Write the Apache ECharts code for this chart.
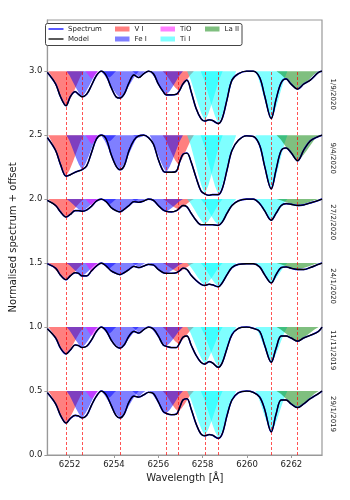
<!DOCTYPE html>
<html>
<head>
<meta charset="utf-8">
<script src="https://cdn.jsdelivr.net/npm/echarts@6/dist/echarts.min.js"></script>
<style>
  html, body { margin: 0; padding: 0; background: #fff; }
  #chart { width: 350px; height: 500px; }
</style>
</head>
<body>
<div id="chart"></div>
<script>
// wavelength grid the spectra were read on (Angstrom)
var wavelengths = [6251.00, 6251.37, 6251.59, 6251.84, 6252.03, 6252.25, 6252.40, 6252.56, 6252.77, 6252.99,
  6253.21, 6253.43, 6253.65, 6253.87, 6254.09, 6254.27, 6254.46, 6254.68, 6254.90, 6255.12,
  6255.34, 6255.56, 6255.78, 6256.00, 6256.22, 6256.36, 6256.59, 6256.82, 6256.96, 6257.11,
  6257.29, 6257.48, 6257.70, 6257.92, 6258.10, 6258.29, 6258.44, 6258.70, 6258.88, 6259.10,
  6259.32, 6259.61, 6259.98, 6260.28, 6260.57, 6260.79, 6261.09, 6261.31, 6261.54, 6261.76,
  6261.98, 6262.28, 6262.56, 6262.85, 6263.22, 6263.38]

var epochs = ['1/9/2020', '9/4/2020', '27/2/2020', '24/1/2020', '11/11/2019', '29/1/2019']
var offsets = [2.0, 1.5, 1.0, 0.5, 0.0, -0.5]

// normalised flux per epoch
var flux_1_9_2020 = [0.99, 0.90, 0.80, 0.73, 0.80, 0.84, 0.82, 0.80, 0.82, 0.89,
  0.966, 1.0, 0.966, 0.875, 0.80, 0.79, 0.82, 0.91, 0.97, 0.95,
  0.98, 1.0, 0.98, 0.90, 0.84, 0.815, 0.815, 0.82, 0.85, 0.90,
  0.93, 0.84, 0.71, 0.63, 0.61, 0.62, 0.615, 0.59, 0.63, 0.78,
  0.93, 0.98, 1.0, 1.0, 0.95, 0.81, 0.63, 0.78, 0.91, 0.94,
  0.90, 0.86, 0.90, 0.93, 0.99, 1.0]
var flux_9_4_2020 = [0.98, 0.88, 0.77, 0.68, 0.69, 0.71, 0.72, 0.73, 0.76, 0.865,
  0.97, 1.0, 0.97, 0.85, 0.76, 0.73, 0.76, 0.88, 0.96, 0.995,
  1.0, 0.98, 0.93, 0.81, 0.72, 0.71, 0.71, 0.72, 0.79, 0.85,
  0.86, 0.79, 0.67, 0.565, 0.54, 0.53, 0.535, 0.535, 0.58, 0.73,
  0.88, 0.96, 0.995, 0.99, 0.92, 0.76, 0.58, 0.73, 0.88, 0.90,
  0.865, 0.80, 0.885, 0.955, 0.99, 1.0]
var flux_27_2_2020 = [0.99, 0.95, 0.90, 0.86, 0.88, 0.91, 0.91, 0.905, 0.915, 0.945,
  0.985, 1.0, 0.98, 0.935, 0.91, 0.90, 0.92, 0.95, 0.98, 0.975,
  0.985, 1.0, 0.99, 0.95, 0.915, 0.905, 0.90, 0.91, 0.93, 0.95,
  0.94, 0.89, 0.835, 0.80, 0.80, 0.80, 0.80, 0.795, 0.82, 0.89,
  0.95, 0.987, 1.0, 1.0, 0.965, 0.91, 0.835, 0.89, 0.95, 0.965,
  0.96, 0.95, 0.955, 0.97, 0.99, 1.0]
var flux_24_1_2020 = [0.995, 0.96, 0.905, 0.87, 0.90, 0.925, 0.92, 0.90, 0.90, 0.94,
  0.977, 1.0, 0.977, 0.94, 0.92, 0.91, 0.925, 0.95, 0.975, 0.965,
  0.977, 0.99, 0.985, 0.95, 0.925, 0.92, 0.92, 0.925, 0.94, 0.96,
  0.95, 0.905, 0.865, 0.835, 0.825, 0.835, 0.83, 0.815, 0.845, 0.91,
  0.965, 0.99, 0.995, 0.995, 0.97, 0.91, 0.845, 0.91, 0.965, 0.97,
  0.96, 0.95, 0.95, 0.965, 0.99, 1.0]
var flux_11_11_2019 = [0.987, 0.915, 0.835, 0.79, 0.82, 0.86, 0.855, 0.84, 0.85, 0.90,
  0.966, 1.0, 0.97, 0.90, 0.85, 0.835, 0.86, 0.93, 0.966, 0.953,
  0.98, 1.0, 0.985, 0.93, 0.86, 0.85, 0.84, 0.84, 0.875, 0.92,
  0.93, 0.86, 0.78, 0.725, 0.71, 0.73, 0.72, 0.685, 0.72, 0.835,
  0.94, 0.99, 1.0, 0.99, 0.966, 0.86, 0.725, 0.835, 0.93, 0.93,
  0.915, 0.89, 0.915, 0.935, 0.966, 1.0]
var flux_29_1_2019 = [0.987, 0.90, 0.81, 0.75, 0.785, 0.81, 0.805, 0.79, 0.81, 0.89,
  0.96, 1.0, 0.97, 0.89, 0.81, 0.79, 0.82, 0.915, 0.96, 0.953,
  0.97, 0.99, 0.98, 0.915, 0.84, 0.825, 0.815, 0.82, 0.87, 0.93,
  0.94, 0.86, 0.745, 0.665, 0.65, 0.66, 0.655, 0.63, 0.665, 0.81,
  0.93, 0.987, 1.0, 0.99, 0.953, 0.86, 0.68, 0.82, 0.93, 0.93,
  0.90, 0.87, 0.90, 0.94, 0.98, 1.0]
var fluxes = [flux_1_9_2020, flux_9_4_2020, flux_27_2_2020, flux_24_1_2020, flux_11_11_2019, flux_29_1_2019]

// individual lines: centre, species, half-width at continuum (Angstrom)
var lineCentres = [6251.84, 6252.56, 6253.00, 6253.80, 6254.27, 6255.12, 6256.36, 6256.90, 6258.10, 6258.71, 6261.10, 6262.28]
var lineSpecies = ['V I', 'Fe I', 'TiO', 'Fe I', 'Fe I', 'Fe I', 'Fe I', 'V I', 'Ti I', 'Ti I', 'Ti I', 'La II']
var lineWidths = [0.8, 0.7, 0.3, 0.3, 0.85, 0.3, 0.75, 0.7, 0.8, 0.8, 0.72, 0.95]

// line depths per epoch, same order as lineCentres
var depth_1_9_2020 = [0.27, 0.20, 0.06, 0.05, 0.21, 0.04, 0.185, 0.15, 0.39, 0.41, 0.37, 0.14]
var depth_9_4_2020 = [0.32, 0.27, 0.07, 0.05, 0.27, 0.02, 0.29, 0.23, 0.46, 0.465, 0.42, 0.20]
var depth_27_2_2020 = [0.14, 0.095, 0.05, 0.04, 0.10, 0.03, 0.095, 0.08, 0.20, 0.205, 0.165, 0.05]
var depth_24_1_2020 = [0.13, 0.10, 0.07, 0.04, 0.09, 0.03, 0.08, 0.07, 0.175, 0.185, 0.155, 0.05]
var depth_11_11_2019 = [0.21, 0.16, 0.07, 0.05, 0.165, 0.04, 0.15, 0.13, 0.29, 0.315, 0.275, 0.11]
var depth_29_1_2019 = [0.25, 0.21, 0.06, 0.05, 0.21, 0.04, 0.175, 0.16, 0.35, 0.37, 0.32, 0.13]
var depths = [depth_1_9_2020, depth_9_4_2020, depth_27_2_2020, depth_24_1_2020, depth_11_11_2019, depth_29_1_2019]

// line profile shape (offset in half-widths, fraction of depth)
var profileU = [-1, -0.8, -0.6, -0.4, -0.2, 0, 0.2, 0.4, 0.6, 0.8, 1]
var profileF = [0, 0.17, 0.4, 0.64, 0.85, 1, 0.85, 0.64, 0.4, 0.17, 0]

var markerLines = [6251.84, 6252.56, 6254.27, 6256.36, 6256.90, 6258.10, 6258.71, 6261.10, 6262.28]
var xTicks = [6252, 6254, 6256, 6258, 6260, 6262]
var yTicks = [0, 0.5, 1.0, 1.5, 2.0, 2.5, 3.0]

var FONT = 'DejaVu Sans'
var X_MIN = 6251.0
var X_MAX = 6263.38
var speciesOrder = ['V I', 'Fe I', 'TiO', 'Ti I', 'La II']
var speciesColors = {
  'V I': 'rgba(255,0,0,0.5)',
  'Fe I': 'rgba(0,0,255,0.5)',
  'TiO': 'rgba(255,0,255,0.5)',
  'Ti I': 'rgba(0,255,255,0.5)',
  'La II': 'rgba(0,128,0,0.5)'
}

var chart = echarts.init(document.getElementById('chart'))
var series = []

// filled line profiles
speciesOrder.forEach(function (sp) {
  var data = []
  for (var ei = 0; ei < epochs.length; ei++) {
    for (var li = 0; li < lineCentres.length; li++) {
      if (lineSpecies[li] === sp) data.push([lineCentres[li], offsets[ei] + 1, li, ei])
    }
  }
  series.push({
    name: sp,
    type: 'custom',
    z: 1,
    silent: true,
    data: data,
    renderItem: function (params, api) {
      var li = api.value(2)
      var ei = api.value(3)
      var c = lineCentres[li]
      var g = lineWidths[li]
      var d = depths[ei][li]
      var base = offsets[ei] + 1
      var pts = profileU.map(function (u, k) {
        return api.coord([c + u * g, base - d * profileF[k]])
      })
      var cs = params.coordSys
      return {
        type: 'polygon',
        shape: { points: pts },
        style: { fill: speciesColors[sp] },
        clipPath: { type: 'rect', shape: { x: cs.x, y: cs.y, width: cs.width, height: cs.height } }
      }
    }
  })
})

// dashed line markers
series.push({
  type: 'line',
  data: [],
  z: 3,
  silent: true,
  markLine: {
    silent: true,
    symbol: ['none', 'none'],
    label: { show: false },
    lineStyle: { color: '#ff0000', width: 0.8, type: [3, 2], opacity: 0.85 },
    data: markerLines.map(function (w) {
      return [{ coord: [w, 0] }, { coord: [w, 3.0] }]
    })
  }
})

// spectra and models
epochs.forEach(function (ep, ei) {
  var pts = wavelengths.map(function (w, k) { return [w, fluxes[ei][k] + offsets[ei]] })
  series.push({
    name: 'Spectrum',
    type: 'line',
    data: pts,
    smooth: 0.35,
    showSymbol: false,
    z: 4,
    silent: true,
    lineStyle: { color: '#0000ff', width: 1.6 }
  })
  series.push({
    name: 'Model',
    type: 'line',
    data: pts,
    smooth: 0.35,
    showSymbol: false,
    z: 5,
    silent: true,
    lineStyle: { color: '#000000', width: 1.3 }
  })
})

// epoch labels on the right
series.push({
  type: 'custom',
  silent: true,
  z: 6,
  data: epochs.map(function (ep, i) { return [X_MAX, offsets[i] + 0.82, i] }),
  renderItem: function (params, api) {
    var p = api.coord([api.value(0), api.value(1)])
    return {
      type: 'text',
      x: p[0] + 11,
      y: p[1],
      rotation: -Math.PI / 2,
      style: {
        text: epochs[api.value(2)],
        fill: '#222',
        fontSize: 7,
        fontFamily: FONT,
        align: 'center',
        verticalAlign: 'middle'
      }
    }
  }
})

// legend drawn by hand so it can be column-major like the original
var legendItems = [
  { name: 'Spectrum', kind: 'line', color: '#0000ff', x: 48.5, y: 29 },
  { name: 'Model', kind: 'line', color: '#000000', x: 48.5, y: 39 },
  { name: 'V I', kind: 'rect', color: speciesColors['V I'], x: 115, y: 29 },
  { name: 'Fe I', kind: 'rect', color: speciesColors['Fe I'], x: 115, y: 39 },
  { name: 'TiO', kind: 'rect', color: speciesColors['TiO'], x: 160.5, y: 29 },
  { name: 'Ti I', kind: 'rect', color: speciesColors['Ti I'], x: 160.5, y: 39 },
  { name: 'La II', kind: 'rect', color: speciesColors['La II'], x: 205, y: 29 }
]
var graphic = [{
  type: 'rect',
  z: 100,
  shape: { x: 45.5, y: 23.5, width: 196.5, height: 22, r: 2 },
  style: { fill: '#fff', stroke: '#444', lineWidth: 1 }
}]
legendItems.forEach(function (it) {
  if (it.kind === 'line') {
    graphic.push({ type: 'line', z: 101, shape: { x1: it.x, y1: it.y, x2: it.x + 15, y2: it.y }, style: { stroke: it.color, lineWidth: 1.3 } })
  } else {
    graphic.push({ type: 'rect', z: 101, shape: { x: it.x, y: it.y - 2.5, width: 14.5, height: 5 }, style: { fill: it.color } })
  }
  graphic.push({
    type: 'text', z: 101, x: it.x + 19.5, y: it.y,
    style: { text: it.name, fill: '#222', fontSize: 7, fontFamily: FONT, verticalAlign: 'middle' }
  })
})

var option = {
  animation: false,
  backgroundColor: '#fff',
  grid: { left: 42, right: 28, top: 20, bottom: 45, show: true, borderColor: '#999', borderWidth: 1.2, backgroundColor: 'transparent' },
  xAxis: {
    type: 'value',
    min: X_MIN,
    max: X_MAX,
    name: 'Wavelength [Å]',
    nameLocation: 'middle',
    nameGap: 17,
    nameTextStyle: { fontSize: 10, color: '#222', fontFamily: FONT },
    axisLine: { lineStyle: { color: '#999', width: 1.2 } },
    axisTick: { customValues: xTicks, length: 3, lineStyle: { color: '#999' } },
    axisLabel: { customValues: xTicks, margin: 5, fontSize: 8.5, color: '#222', fontFamily: FONT, formatter: function (v) { return String(v) } },
    splitLine: { show: false }
  },
  yAxis: {
    type: 'value',
    min: 0,
    max: 3.4,
    name: 'Normalised spectrum + offset',
    nameLocation: 'middle',
    nameGap: 24,
    nameTextStyle: { fontSize: 10, color: '#222', fontFamily: FONT },
    axisLine: { lineStyle: { color: '#999', width: 1.2 } },
    axisTick: { customValues: yTicks, length: 3, lineStyle: { color: '#999' } },
    axisLabel: { customValues: yTicks, margin: 5, fontSize: 8.5, color: '#222', fontFamily: FONT, formatter: function (v) { return v.toFixed(1) } },
    splitLine: { show: false }
  },
  graphic: graphic,
  series: series
}
chart.setOption(option)
</script>
</body>
</html>
